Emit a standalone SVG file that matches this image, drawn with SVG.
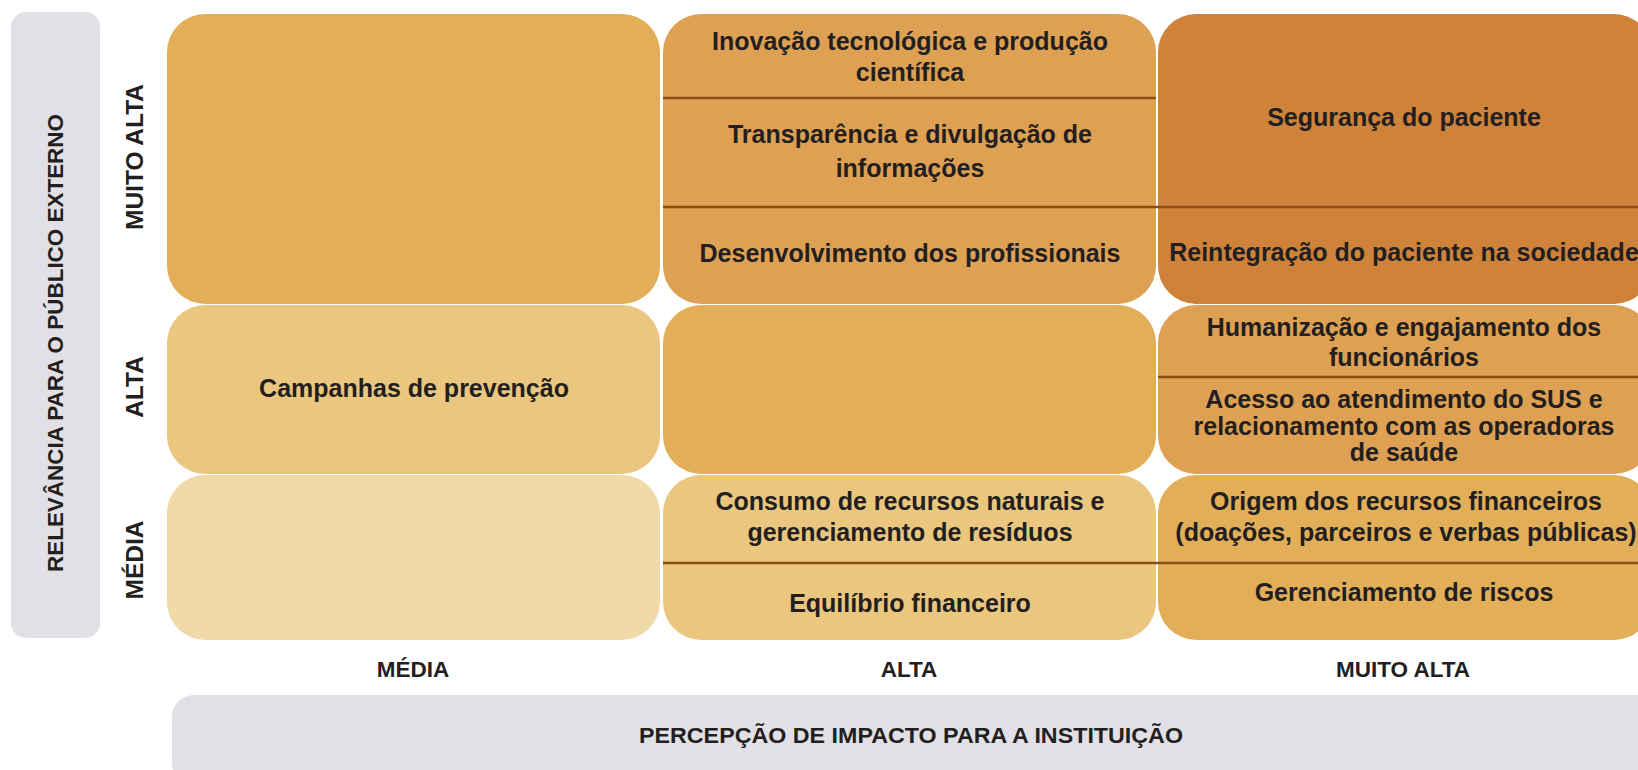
<svg xmlns="http://www.w3.org/2000/svg" width="1638" height="770" viewBox="0 0 1638 770">
<style>
.axisbg{fill:#E1E0E6}
.cell{stroke:none}
.t{font-family:"Liberation Sans",Arial,sans-serif;font-weight:bold;font-size:25px;fill:#231F20;text-anchor:middle}
.ax{font-family:"Liberation Sans",Arial,sans-serif;font-weight:bold;font-size:22.5px;fill:#231F20;text-anchor:middle}
.rl{font-family:"Liberation Sans",Arial,sans-serif;font-weight:bold;font-size:24.5px;fill:#231F20;text-anchor:middle}
.div{stroke:#8A4E16;stroke-width:2.5;fill:none}
</style>
<rect width="1638" height="770" fill="#FFFFFF"/>

<g id="axis-y">
<rect class="axisbg" x="11" y="12" width="89" height="626" rx="15"/>
<text class="ax" transform="translate(63,343) rotate(-90)" textLength="458" lengthAdjust="spacingAndGlyphs">RELEVÂNCIA PARA O PÚBLICO EXTERNO</text>
</g>
<g id="axis-x">
<rect class="axisbg" x="172" y="695" width="1500" height="90" rx="22"/>
<text class="ax" x="911" y="743" font-size="23" textLength="544" lengthAdjust="spacingAndGlyphs">PERCEPÇÃO DE IMPACTO PARA A INSTITUIÇÃO</text>
</g>

<g id="row-labels">
<text class="rl" transform="translate(143,157) rotate(-90)">MUITO ALTA</text>
<text class="rl" transform="translate(143,387) rotate(-90)">ALTA</text>
<text class="rl" transform="translate(143,560) rotate(-90)">MÉDIA</text>
</g>
<g id="col-labels">
<text class="ax" x="413" y="677">MÉDIA</text>
<text class="ax" x="909" y="677">ALTA</text>
<text class="ax" x="1403" y="677">MUITO ALTA</text>
</g>

<g id="cell-media-muitoalta"><rect class="cell" x="167" y="14" width="493" height="290" rx="38" fill="#E2AE58"/></g>
<g id="cell-media-alta">
<rect class="cell" x="167" y="305" width="493" height="169" rx="38" fill="#EAC67F"/>
<text class="t" x="414" y="397">Campanhas de prevenção</text>
</g>
<g id="cell-media-media"><rect class="cell" x="167" y="475" width="493" height="165" rx="38" fill="#F0DAAA"/></g>

<g id="cell-alta-muitoalta">
<rect class="cell" x="663" y="14" width="493" height="290" rx="38" fill="#DEA052"/>
<text class="t" x="910" y="50">Inovação tecnológica e produção</text>
<text class="t" x="910" y="81">científica</text>
<text class="t" x="910" y="143">Transparência e divulgação de</text>
<text class="t" x="910" y="177">informações</text>
<text class="t" x="910" y="262">Desenvolvimento dos profissionais</text>
</g>
<g id="cell-alta-alta"><rect class="cell" x="663" y="305" width="493" height="169" rx="38" fill="#E2AE58"/></g>
<g id="cell-alta-media">
<rect class="cell" x="663" y="475" width="493" height="165" rx="38" fill="#EAC67F"/>
<text class="t" x="910" y="510">Consumo de recursos naturais e</text>
<text class="t" x="910" y="541">gerenciamento de resíduos</text>
<text class="t" x="910" y="612">Equilíbrio financeiro</text>
</g>

<g id="cell-muitoalta-muitoalta">
<rect class="cell" x="1158" y="14" width="494" height="290" rx="38" fill="#CE823A"/>
<text class="t" x="1404" y="126">Segurança do paciente</text>
<text class="t" x="1404" y="261">Reintegração do paciente na sociedade</text>
</g>
<g id="cell-muitoalta-alta">
<rect class="cell" x="1158" y="305" width="494" height="169" rx="38" fill="#DEA052"/>
<text class="t" x="1404" y="336">Humanização e engajamento dos</text>
<text class="t" x="1404" y="366">funcionários</text>
<text class="t" x="1404" y="408">Acesso ao atendimento do SUS e</text>
<text class="t" x="1404" y="435">relacionamento com as operadoras</text>
<text class="t" x="1404" y="461">de saúde</text>
</g>
<g id="cell-muitoalta-media">
<rect class="cell" x="1158" y="475" width="494" height="165" rx="38" fill="#E2AE58"/>
<text class="t" x="1406" y="510">Origem dos recursos financeiros</text>
<text class="t" x="1406" y="541">(doações, parceiros e verbas públicas)</text>
<text class="t" x="1404" y="601">Gerenciamento de riscos</text>
</g>

<g id="dividers">
<line class="div" x1="663" y1="98" x2="1156" y2="98"/>
<line class="div" x1="663" y1="207" x2="1638" y2="207"/>
<line class="div" x1="1158" y1="377" x2="1638" y2="377"/>
<line class="div" x1="663" y1="563" x2="1638" y2="563"/>
</g>
</svg>
